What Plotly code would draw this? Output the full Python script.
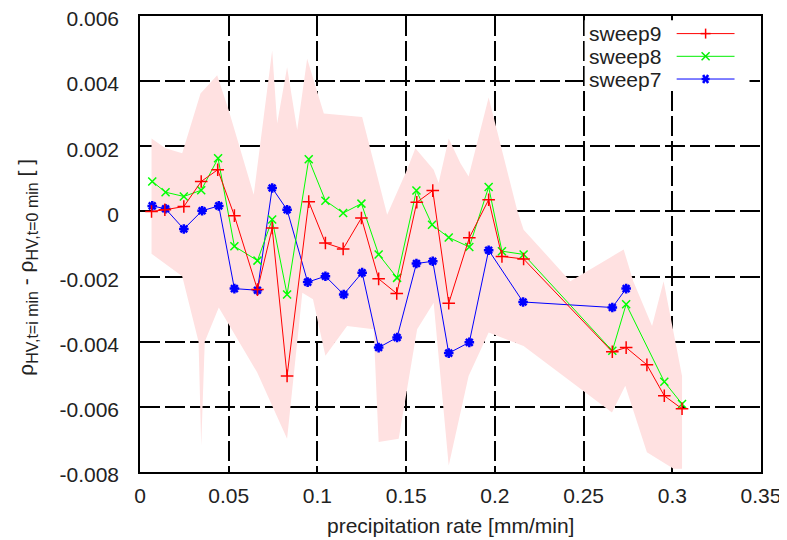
import plotly.graph_objects as go

# ---- data ----
sweep9_x = [0.0065, 0.0140, 0.0247, 0.0345, 0.0438, 0.0532, 0.0662, 0.0745, 0.0829, 0.0951,
            0.1045, 0.1145, 0.1248, 0.1345, 0.1447, 0.1560, 0.1650, 0.1740, 0.1856, 0.1965,
            0.2040, 0.2162, 0.2662, 0.2740, 0.2857, 0.2955, 0.3055]
sweep9_y = [0.0000, 0.00005, 0.00015, 0.00092, 0.00128, -0.00013, -0.0024, -0.00051, -0.00505, 0.0003,
            -0.00097, -0.00115, -0.0002, -0.00207, -0.00252, 0.00028, 0.00064, -0.00282, -0.00081, 0.00036,
            -0.00138, -0.00146, -0.00431, -0.00418, -0.00471, -0.00566, -0.00606]

sweep8_x = [0.0069, 0.0144, 0.0247, 0.0345, 0.0440, 0.0532, 0.0662, 0.0745, 0.0829, 0.0951,
            0.1045, 0.1145, 0.1248, 0.1345, 0.1449, 0.1558, 0.1646, 0.1740, 0.1856, 0.1965,
            0.2040, 0.2162, 0.2662, 0.2740, 0.2955, 0.3055]
sweep8_y = [0.00092, 0.00059, 0.00046, 0.00065, 0.00163, -0.00107, -0.00151, -0.00025, -0.00255, 0.0016,
            0.00033, -0.00005, 0.00024, -0.00132, -0.00204, 0.00064, -0.00041, -0.0008, -0.00109, 0.00075,
            -0.00122, -0.00132, -0.00428, -0.00285, -0.00523, -0.00591]

sweep7_x = [0.0069, 0.0144, 0.0247, 0.0350, 0.0444, 0.0532, 0.0662, 0.0745, 0.0829, 0.0945,
            0.1045, 0.1148, 0.1252, 0.1345, 0.1449, 0.1558, 0.1650, 0.1740, 0.1856, 0.1965,
            0.2159, 0.2662, 0.2740]
sweep7_y = [0.00017, 0.00008, -0.00054, 0.00002, 0.00017, -0.00237, -0.00242, 0.00072, 0.00005, -0.00217,
            -0.00199, -0.00255, -0.00188, -0.00418, -0.00387, -0.0016, -0.00153, -0.00435, -0.00402, -0.00119,
            -0.00278, -0.00295, -0.00237]

band_upper_x = [0.0065, 0.0144, 0.0238, 0.0341, 0.0435, 0.0500, 0.0641, 0.0745, 0.0773, 0.0829,
                0.0886, 0.0942, 0.1036, 0.1252, 0.1393, 0.1505, 0.1552, 0.1655, 0.1683, 0.1740,
                0.1806, 0.1852, 0.1965, 0.2125, 0.2162, 0.2425, 0.2660, 0.2726, 0.2780, 0.2886,
                0.2951, 0.3055]
band_upper_y = [0.00224, 0.00194, 0.00179, 0.00362, 0.00418, 0.00311, 0.00051, 0.00494, 0.0027, 0.00443,
                0.0025, 0.00469, 0.00301, 0.0029, -0.0001, 0.00128, 0.00194, 0.00128, 0.00087, 0.00224,
                0.00148, 0.00107, 0.0035, 0.00005, -0.00056, -0.00214, -0.00138, -0.00117, -0.00214, -0.00352,
                -0.00214, -0.00505]

band_lower_x = [0.0065, 0.0238, 0.0330, 0.0345, 0.0365, 0.0444, 0.0660, 0.0829, 0.0915, 0.0975,
                0.1045, 0.1167, 0.1317, 0.1345, 0.1458, 0.1562, 0.1655, 0.1740, 0.1852, 0.1965,
                0.2162, 0.2660, 0.2735, 0.2857, 0.3007, 0.3055]
band_lower_y = [-0.0013, -0.00199, -0.0040, -0.0072, -0.0040, -0.00295, -0.00494, -0.00698, -0.0025, -0.0027,
                -0.00443, -0.00352, -0.00362, -0.00708, -0.00698, -0.00362, -0.0028, -0.0078, -0.00505, -0.00372,
                -0.00413, -0.00617, -0.00535, -0.00739, -0.0079, -0.0079]

x_ticks = [0, 0.05, 0.1, 0.15, 0.2, 0.25, 0.3, 0.35]
x_tick_text = ["0", "0.05", "0.1", "0.15", "0.2", "0.25", "0.3", "0.35"]
y_ticks = [0.006, 0.004, 0.002, 0, -0.002, -0.004, -0.006, -0.008]
y_tick_text = ["0.006", "0.004", "0.002", "0", "-0.002", "-0.004", "-0.006", "-0.008"]

series_names = ["sweep9", "sweep8", "sweep7"]
series_colors = ["#ff0000", "#00ee00", "#0000ff"]

FONT = "Liberation Sans, Arial, sans-serif"

fig = go.Figure()

# shaded envelope
fig.add_trace(go.Scatter(
    x=band_upper_x + band_lower_x[::-1],
    y=band_upper_y + band_lower_y[::-1],
    fill="toself", fillcolor="#ffe1e1", line=dict(width=0),
    mode="lines", hoverinfo="skip", showlegend=False))

fig.add_trace(go.Scatter(
    x=sweep7_x, y=sweep7_y, name="sweep7", mode="lines+markers", showlegend=False,
    line=dict(color="#0000ff", width=1),
    marker=dict(symbol="asterisk-open", size=8, line=dict(color="#0000ff", width=2.5))))
fig.add_trace(go.Scatter(
    x=sweep8_x, y=sweep8_y, name="sweep8", mode="lines+markers", showlegend=False,
    line=dict(color="#00ff00", width=1),
    marker=dict(symbol="x-thin-open", size=8, line=dict(color="#00ee00", width=1.5))))
fig.add_trace(go.Scatter(
    x=sweep9_x, y=sweep9_y, name="sweep9", mode="lines+markers", showlegend=False,
    line=dict(color="#ff0000", width=1),
    marker=dict(symbol="cross-thin-open", size=9, line=dict(color="#ff0000", width=1.5))))

grid = dict(showgrid=True, gridcolor="#000000", gridwidth=1.5, griddash="20px,5px",
            zeroline=False, showline=True, linecolor="#000000", linewidth=1.5, mirror=True,
            ticks="", automargin=False, ticklabeloverflow="allow",
            tickfont=dict(family=FONT, size=21, color="#222222"))

fig.update_xaxes(range=[0, 0.35], tickvals=x_ticks, ticktext=x_tick_text,
                 ticklabelstandoff=4, **grid)
fig.update_yaxes(range=[-0.008, 0.006], tickvals=y_ticks, ticktext=y_tick_text,
                 ticklabelstandoff=15, ticklabelshift=3, **grid)

fig.add_annotation(text="precipitation rate [mm/min]", xref="paper", yref="paper",
                   x=0.5, y=-0.117, xanchor="center", yanchor="middle", showarrow=False,
                   font=dict(family=FONT, size=21, color="#222222"))
sub = "<sub><span style='font-size:16px'>%s</span></sub>"
fig.add_annotation(text="ρ" + sub % "HV,t=i min" + " - ρ" + sub % "HV,t=0 min" + " [ ]",
                   xref="paper", yref="paper", x=-0.182, y=0.45, textangle=-90,
                   xanchor="center", yanchor="middle", showarrow=False,
                   font=dict(family=FONT, size=21, color="#222222"))

# gnuplot-style key: white box, text left, sample line + marker right
fig.add_shape(type="rect", xref="paper", yref="paper", x0=0.716, x1=0.9815, y0=0.837, y1=0.9906,
              fillcolor="white", line=dict(width=0), layer="above")
key_rows = [0.9614, 0.9116, 0.8618]
for name, color, yk in zip(series_names, series_colors, key_rows):
    fig.add_annotation(text=name, xref="paper", yref="paper", x=0.8417, y=yk,
                       xanchor="right", yanchor="middle", showarrow=False,
                       font=dict(family=FONT, size=21, color="#222222"))
    fig.add_shape(type="line", xref="paper", yref="paper", x0=0.8642, x1=0.9574, y0=yk, y1=yk,
                  line=dict(color=color, width=1), layer="above")
    if name == "sweep9":
        segs = [(-5, 0, 5, 0), (0, -5, 0, 5)]
    elif name == "sweep8":
        segs = [(-4, -4, 4, 4), (-4, 4, 4, -4)]
    else:
        segs = [(-4, 0, 4, 0), (-2.5, -4, 2.5, 4), (-2.5, 4, 2.5, -4)]
    for (a, b, c, d) in segs:
        fig.add_shape(type="line", xref="paper", yref="paper", layer="above",
                      xsizemode="pixel", ysizemode="pixel", xanchor=0.9108, yanchor=yk,
                      x0=a, y0=b, x1=c, y1=d,
                      line=dict(color=color, width=2.5 if name == "sweep7" else 1.5))

fig.update_layout(
    width=779, height=532,
    margin=dict(l=131.5, r=25.5, t=7.7, b=68.3, autoexpand=False),
    paper_bgcolor="white", plot_bgcolor="white",
    showlegend=False,
)

fig.write_html("out.html")
